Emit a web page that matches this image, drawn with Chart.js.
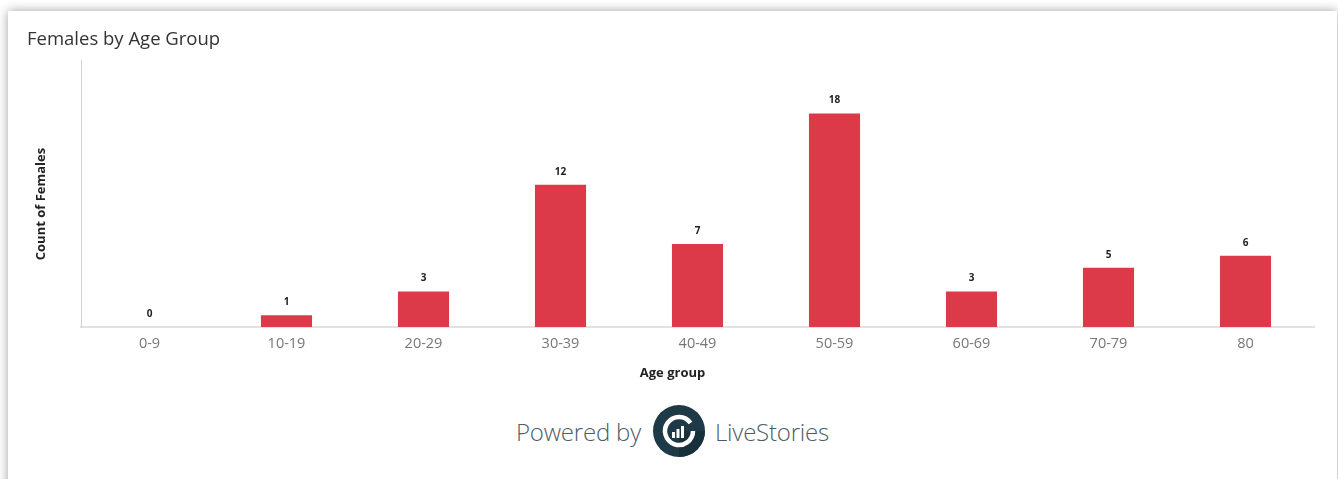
<!DOCTYPE html>
<html>
<head>
<meta charset="utf-8">
<script src="https://cdn.jsdelivr.net/npm/chart.js@4"></script>
<style>
  body { margin: 0; background: #fff; font-family: "Open Sans", sans-serif; overflow: hidden; }
  .card { position: absolute; left: 8px; top: 11px; width: 1329px; height: 480px; background: #fff;
          box-shadow: 0 0 10px rgba(0,0,0,0.38); }
  .chart-box { position: absolute; left: 0; top: 0; width: 1329px; height: 380px; }
  .powered { position: absolute; left: 0; top: 393px; width: 1329px; height: 54px;
             display: flex; align-items: center; justify-content: center; color: #4d5d68;
             font-weight: 300; font-size: 24px; letter-spacing: -0.2px; }
  .powered svg { margin: 0 10px 0 12px; }
</style>
</head>
<body>
<div class="card">
  <div class="chart-box"><canvas id="ageChart"></canvas></div>
  <div class="powered">
    <span>Powered by</span>
    <svg width="52" height="52" viewBox="0 0 52 52">
      <circle cx="26" cy="26" r="26" fill="#1e3a47"/>
      <path d="M26 26 L52 26 A26 26 0 0 1 26 52 Z" fill="#173039"/>
      <path d="M37.5 18 A14 14 0 1 0 40 26" fill="none" stroke="#fff" stroke-width="4.5"/>
      <rect x="19" y="27" width="3" height="6" fill="#fff"/>
      <rect x="23.5" y="24" width="3" height="9" fill="#fff"/>
      <rect x="28" y="21" width="3" height="12" fill="#fff"/>
    </svg>
    <span>LiveStories</span>
  </div>
</div>
<script>
// Data
const ageGroups = ["0-9", "10-19", "20-29", "30-39", "40-49", "50-59", "60-69", "70-79", "80"];
const femaleCounts = [0, 1, 3, 12, 7, 18, 3, 5, 6];
const xTitle = "Age group";
const yTitle = "Count of Females";

// value labels above each bar, plus axis titles placed like the original
const barLabels = {
  id: "barLabels",
  afterDatasetsDraw(chart) {
    const ctx = chart.ctx;
    ctx.save();
    ctx.font = "bold 10px 'Open Sans', sans-serif";
    ctx.fillStyle = "#222";
    ctx.textAlign = "center";
    ctx.textBaseline = "middle";
    chart.getDatasetMeta(0).data.forEach((bar, i) => {
      ctx.fillText(femaleCounts[i], bar.x, bar.y - 13);
    });

    ctx.font = "bold 13px 'Open Sans', sans-serif";
    ctx.fillText(xTitle, chart.width / 2, 362);

    ctx.translate(33, 193);
    ctx.rotate(-Math.PI / 2);
    ctx.fillText(yTitle, 0, 0);
    ctx.restore();
  }
};

new Chart(document.getElementById("ageChart"), {
  type: "bar",
  data: {
    labels: ageGroups,
    datasets: [{
      label: "Count of Females",
      data: femaleCounts,
      backgroundColor: "#dc3a48",
      barPercentage: 0.373,
      categoryPercentage: 1
    }]
  },
  options: {
    responsive: true,
    maintainAspectRatio: false,
    animation: false,
    layout: { padding: { left: 19, right: 23, top: 0, bottom: 4 } },
    plugins: {
      legend: { display: false },
      tooltip: { enabled: false },
      title: {
        display: true,
        text: "Females by Age Group",
        align: "start",
        color: "#333",
        font: { family: "Open Sans", size: 18.5, weight: "normal" },
        padding: { top: 18, bottom: 9 }
      }
    },
    scales: {
      x: {
        grid: { display: false, drawTicks: false },
        border: { color: "#e2e2e2", width: 2 },
        ticks: { color: "#777", padding: 8, font: { family: "Open Sans", size: 14.5 } },
        afterFit(scale) { scale.height = 60; }
      },
      y: {
        min: 0, max: 22.5,
        grid: { display: false, drawTicks: false },
        border: { color: "#d0d0d0", width: 1 },
        ticks: { display: false },
        afterFit(scale) { scale.width = 54; }
      }
    }
  },
  plugins: [barLabels]
});
</script>
</body>
</html>
